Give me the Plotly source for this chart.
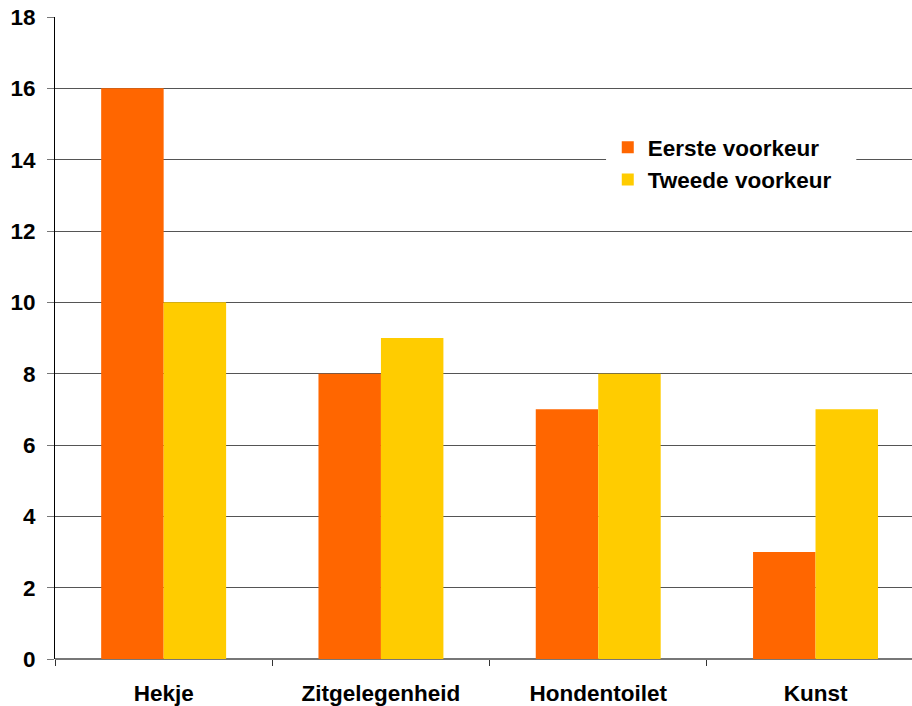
import plotly.graph_objects as go

categories = ["Hekje", "Zitgelegenheid", "Hondentoilet", "Kunst"]
eerste = [16, 8, 7, 3]
tweede = [10, 9, 8, 7]
y_ticks = [0, 2, 4, 6, 8, 10, 12, 14, 16, 18]

FONT = "Liberation Sans, Arial, sans-serif"
FS = 22.5

fig = go.Figure()
fig.add_trace(go.Bar(x=categories, y=eerste, name="Eerste voorkeur",
                     marker=dict(color="#FF6600", line=dict(width=0))))
fig.add_trace(go.Bar(x=categories, y=tweede, name="Tweede voorkeur",
                     marker=dict(color="#FFCC00", line=dict(width=0))))

# white legend backdrop (covers gridline like the original legend box)
fig.add_shape(type="rect", xref="paper", yref="paper",
              x0=0.643, x1=0.935, y0=0.715, y1=0.824,
              fillcolor="white", line=dict(width=0), layer="above")

fig.update_layout(
    width=912, height=706,
    margin=dict(l=55, r=0, t=17, b=47, autoexpand=False),
    paper_bgcolor="white", plot_bgcolor="white",
    barmode="group", bargap=0.425, bargroupgap=0,
    font=dict(family=FONT, size=FS, color="black", weight="bold"),
    showlegend=True,
    legend=dict(x=0.645, y=0.83, xanchor="left", yanchor="top",
                bgcolor="white", borderwidth=0,
                font=dict(family=FONT, size=FS, color="black", weight="bold"),
                tracegroupgap=0),
    xaxis=dict(range=[-0.5, 3.444], type="category", automargin=False,
               showgrid=False, showline=False, zeroline=False,
               ticks="outside", tickson="boundaries", ticklen=6, tickcolor="#333",
               tickwidth=1, ticklabelstandoff=18,
               tickfont=dict(family=FONT, size=FS, color="black", weight="bold")),
    yaxis=dict(range=[0, 18], tickvals=y_ticks, ticklabeloverflow="allow",
               automargin=False,
               showgrid=True, gridcolor="#555", gridwidth=1,
               showline=True, linecolor="black", linewidth=1,
               zeroline=True, zerolinecolor="#777", zerolinewidth=2,
               ticks="outside", ticklen=7, tickcolor="#777", ticklabelstandoff=7,
               tickfont=dict(family=FONT, size=FS, color="black", weight="bold")),
)

fig.write_html("out.html", config={"displayModeBar": False},
               post_script="document.body.style.margin='0';document.body.style.overflow='hidden';")
